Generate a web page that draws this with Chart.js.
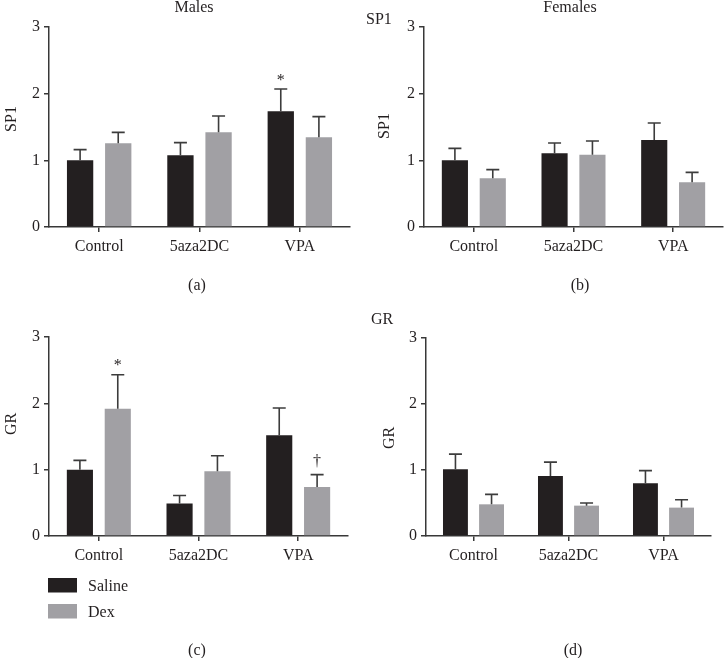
<!DOCTYPE html>
<html><head><meta charset="utf-8">
<script src="https://cdn.jsdelivr.net/npm/chart.js@4.4.1/dist/chart.umd.min.js"></script>
<style>
html,body{margin:0;padding:0;background:#fff;}
#wrap{position:relative;width:726px;height:658px;overflow:hidden;font-family:"Liberation Serif",serif;color:#231f20;}
canvas{position:absolute;}
.t{position:absolute;font-size:16px;line-height:16px;white-space:nowrap;}
.c{transform:translate(-50%,-50%);}
.r{transform:translate(-50%,-50%) rotate(-90deg);}
</style></head><body>
<div id="wrap">
<canvas id="ca" width="363" height="300" style="left:0;top:0"></canvas>
<canvas id="cb" width="363" height="300" style="left:363px;top:0"></canvas>
<canvas id="cc" width="363" height="358" style="left:0;top:300px"></canvas>
<canvas id="cd" width="363" height="358" style="left:363px;top:300px"></canvas>
<div class="t c" style="left:194px;top:7px">Males</div>
<div class="t c" style="left:570px;top:7px">Females</div>
<div class="t" style="left:366px;top:11px">SP1</div>
<div class="t" style="left:371px;top:311px">GR</div>
<div class="t r" style="left:11px;top:119px">SP1</div>
<div class="t r" style="left:384px;top:126px">SP1</div>
<div class="t r" style="left:11px;top:424px">GR</div>
<div class="t r" style="left:389px;top:438px">GR</div>
<div class="t c" style="left:197px;top:285px">(a)</div>
<div class="t c" style="left:580px;top:285px">(b)</div>
<div class="t c" style="left:197px;top:650px">(c)</div>
<div class="t c" style="left:573px;top:650px">(d)</div>
</div>
<script>
const categories = ['Control', '5aza2DC', 'VPA'];
const seriesNames = ['Saline', 'Dex'];
const yMin = 0, yMax = 3, yStep = 1;

// (a) Males SP1
const malesSP1Saline = [1.00, 1.075, 1.735];
const malesSP1SalineSem = [0.16, 0.19, 0.335];
const malesSP1SalineSig = ['', '', '*'];
const malesSP1Dex = [1.255, 1.42, 1.345];
const malesSP1DexSem = [0.165, 0.245, 0.31];
const malesSP1DexSig = ['', '', ''];

// (b) Females SP1
const femalesSP1Saline = [1.00, 1.105, 1.305];
const femalesSP1SalineSem = [0.18, 0.155, 0.255];
const femalesSP1Dex = [0.73, 1.085, 0.67];
const femalesSP1DexSem = [0.13, 0.205, 0.15];

// (c) Males GR
const malesGRSaline = [1.00, 0.49, 1.52];
const malesGRSalineSem = [0.14, 0.12, 0.41];
const malesGRDex = [1.92, 0.975, 0.74];
const malesGRDexSem = [0.51, 0.235, 0.185];
const malesGRDexSig = ['*', '', '\u2020'];

// (d) Females GR
const femalesGRSaline = [1.01, 0.91, 0.80];
const femalesGRSalineSem = [0.23, 0.21, 0.19];
const femalesGRDex = [0.48, 0.46, 0.43];
const femalesGRDexSem = [0.15, 0.04, 0.12];

const salineColor = '#231f20';
const dexColor = '#a1a0a4';
const inkColor = '#231f20';
const axisColor = '#383838';
const FONT = '"Liberation Serif", "Times New Roman", serif';

const errPlugin = {
  id: 'err',
  afterDatasetsDraw(chart) {
    const ctx = chart.ctx, y = chart.scales.y;
    chart.data.datasets.forEach((ds, di) => {
      const meta = chart.getDatasetMeta(di);
      meta.data.forEach((bar, i) => {
        const top = y.getPixelForValue(ds.data[i] + ds.sem[i]);
        const x = bar.x, half = 6.5;
        ctx.save();
        ctx.strokeStyle = '#3c3c3c';
        ctx.lineWidth = 1.6;
        ctx.beginPath();
        ctx.moveTo(x, bar.y); ctx.lineTo(x, top);
        ctx.moveTo(x - half, top); ctx.lineTo(x + half, top);
        ctx.stroke();
        const s = ds.sig ? ds.sig[i] : '';
        if (s) {
          ctx.fillStyle = inkColor;
          ctx.font = '16px ' + FONT;
          ctx.textAlign = 'center';
          ctx.textBaseline = 'alphabetic';
          ctx.fillText(s, x, top - (s === '*' ? 4.5 : 9));
        }
        ctx.restore();
      });
    });
  }
};

const legPlugin = {
  id: 'leg',
  afterDraw(chart, args, opts) {
    if (!opts || !opts.show) return;
    const ctx = chart.ctx, a = chart.chartArea;
    chart.data.datasets.forEach((ds, i) => {
      const bx = a.left - 1, by = a.bottom + 42 + i * 26;
      ctx.save();
      ctx.fillStyle = ds.backgroundColor;
      ctx.fillRect(bx, by, 29, 14.5);
      ctx.fillStyle = inkColor;
      ctx.font = '16px ' + FONT;
      ctx.textAlign = 'left';
      ctx.textBaseline = 'alphabetic';
      ctx.fillText(ds.label, bx + 40, by + 13);
      ctx.restore();
    });
  }
};

function makeChart(id, saline, salineSem, salineSig, dex, dexSem, dexSig, L) {
  new Chart(document.getElementById(id), {
    type: 'bar',
    data: {
      labels: categories,
      datasets: [
        { label: seriesNames[0], data: saline, sem: salineSem, sig: salineSig, backgroundColor: salineColor, borderWidth: 0 },
        { label: seriesNames[1], data: dex, sem: dexSem, sig: dexSig, backgroundColor: dexColor, borderWidth: 0 }
      ]
    },
    options: {
      responsive: false,
      animation: false,
      devicePixelRatio: 1,
      datasets: { bar: { categoryPercentage: 0.76, barPercentage: 0.69 } },
      layout: { padding: { left: 0, right: L.right, top: L.top, bottom: 0 } },
      plugins: { legend: { display: false }, tooltip: { enabled: false }, leg: { show: !!L.legend } },
      scales: {
        x: {
          afterFit: s => { s.height = L.xh; },
          grid: { offset: false, drawOnChartArea: false, drawTicks: true, tickLength: 5, color: axisColor, tickColor: axisColor, lineWidth: 1.5 },
          border: { display: true, color: axisColor, width: 1.5 },
          ticks: { color: inkColor, font: { family: FONT, size: 16 }, padding: 5, maxRotation: 0 }
        },
        y: {
          min: yMin, max: yMax,
          afterFit: s => { s.width = L.yw; },
          grid: { drawOnChartArea: false, drawTicks: true, tickLength: 5, color: axisColor, tickColor: axisColor, lineWidth: 1.5 },
          border: { display: true, color: axisColor, width: 1.5 },
          ticks: { stepSize: yStep, color: inkColor, font: { family: FONT, size: 16 }, padding: 4 }
        }
      }
    },
    plugins: [errPlugin, legPlugin]
  });
}

makeChart('ca', malesSP1Saline, malesSP1SalineSem, malesSP1SalineSig, malesSP1Dex, malesSP1DexSem, malesSP1DexSig,
  { yw: 49, xh: 73, top: 27, right: 13 });
makeChart('cb', femalesSP1Saline, femalesSP1SalineSem, null, femalesSP1Dex, femalesSP1DexSem, null,
  { yw: 61, xh: 73, top: 27, right: 3 });
makeChart('cc', malesGRSaline, malesGRSalineSem, null, malesGRDex, malesGRDexSem, malesGRDexSig,
  { yw: 49, xh: 122, top: 37, right: 15, legend: true });
makeChart('cd', femalesGRSaline, femalesGRSalineSem, null, femalesGRDex, femalesGRDexSem, null,
  { yw: 63, xh: 122, top: 38, right: 15 });
</script>
</body></html>
